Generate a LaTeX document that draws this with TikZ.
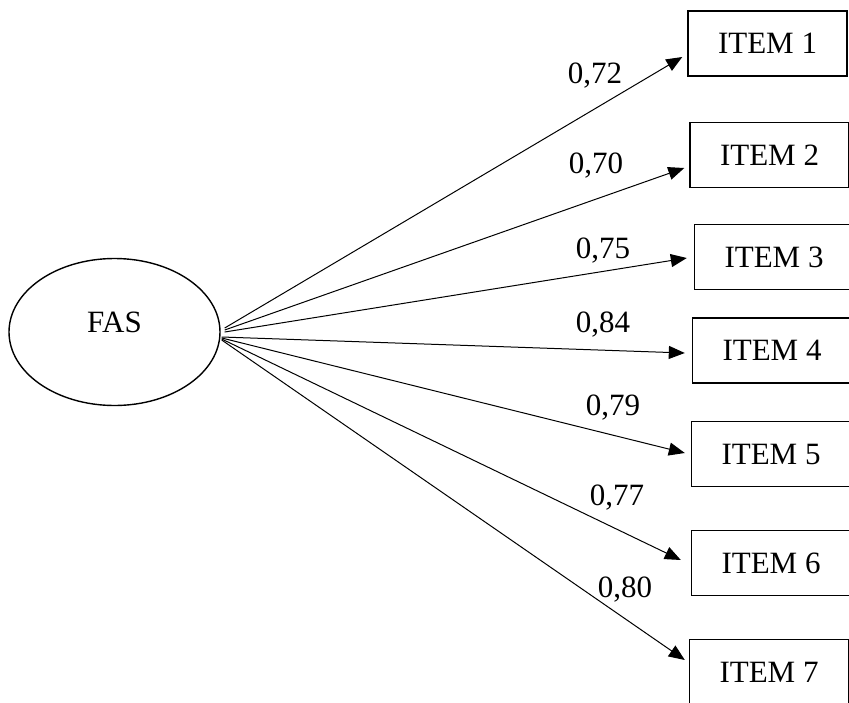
\documentclass[tikz,border=0pt]{standalone}
\usepackage{fontspec}
\setmainfont{Liberation Serif}
\usetikzlibrary{shapes.geometric,arrows.meta,calc}
\begin{document}
\begin{tikzpicture}[x=1pt,y=-1pt,
  every node/.style={font=\fontsize{31}{37}\selectfont},
  itembox/.style={draw, line width=1.4pt, minimum width=159pt, minimum height=65pt, inner sep=0pt},
  latent/.style={draw, ellipse, line width=1.4pt, minimum width=211pt, minimum height=147pt, inner sep=0pt, text depth=20pt},
  loading/.style={line width=1pt, -{Triangle[length=16pt,width=13pt]}},
  coef/.style={anchor=base, inner sep=0pt}]
\useasboundingbox (0,0) rectangle (849,702);
\node[latent] (fas) at (114.5,332) {FAS};
\node[itembox] (i1) at (767.5,43.5) {ITEM 1};
\node[itembox] (i2) at (769.5,155) {ITEM 2};
\node[itembox] (i3) at (774,257) {ITEM 3};
\node[itembox] (i4) at (772,350.5) {ITEM 4};
\node[itembox] (i5) at (771,454) {ITEM 5};
\node[itembox] (i6) at (771,563) {ITEM 6};
\node[itembox] (i7) at (769,672) {ITEM 7};
\draw[loading] ($(fas.east)+(4,-4)$) -- ($(i1.west)+(-5,13.5)$);
\draw[loading] ($(fas.east)+(4,-2)$) -- ($(i2.west)+(-5,13)$);
\draw[loading] ($(fas.east)+(4,0)$) -- ($(i3.west)+(-7,1)$);
\draw[loading] ($(fas.east)+(1,5)$) -- ($(i4.west)+(-7,2.5)$);
\draw[loading] ($(fas.east)+(1,6)$) -- ($(i5.west)+(-6,-1)$);
\draw[loading] ($(fas.east)+(1,7)$) -- ($(i6.west)+(-10,-3)$);
\draw[loading] ($(fas.east)+(1,8)$) -- ($(i7.west)+(-4,-12)$);
\node[coef] (l1) at (595,83) {0,72};
\node[coef] (l2) at (596,173) {0,70};
\node[coef] (l3) at (603,258) {0,75};
\node[coef] (l4) at (603,332) {0,84};
\node[coef] (l5) at (613,415) {0,79};
\node[coef] (l6) at (617,505) {0,77};
\node[coef] (l7) at (625,597) {0,80};
\end{tikzpicture}
\end{document}
